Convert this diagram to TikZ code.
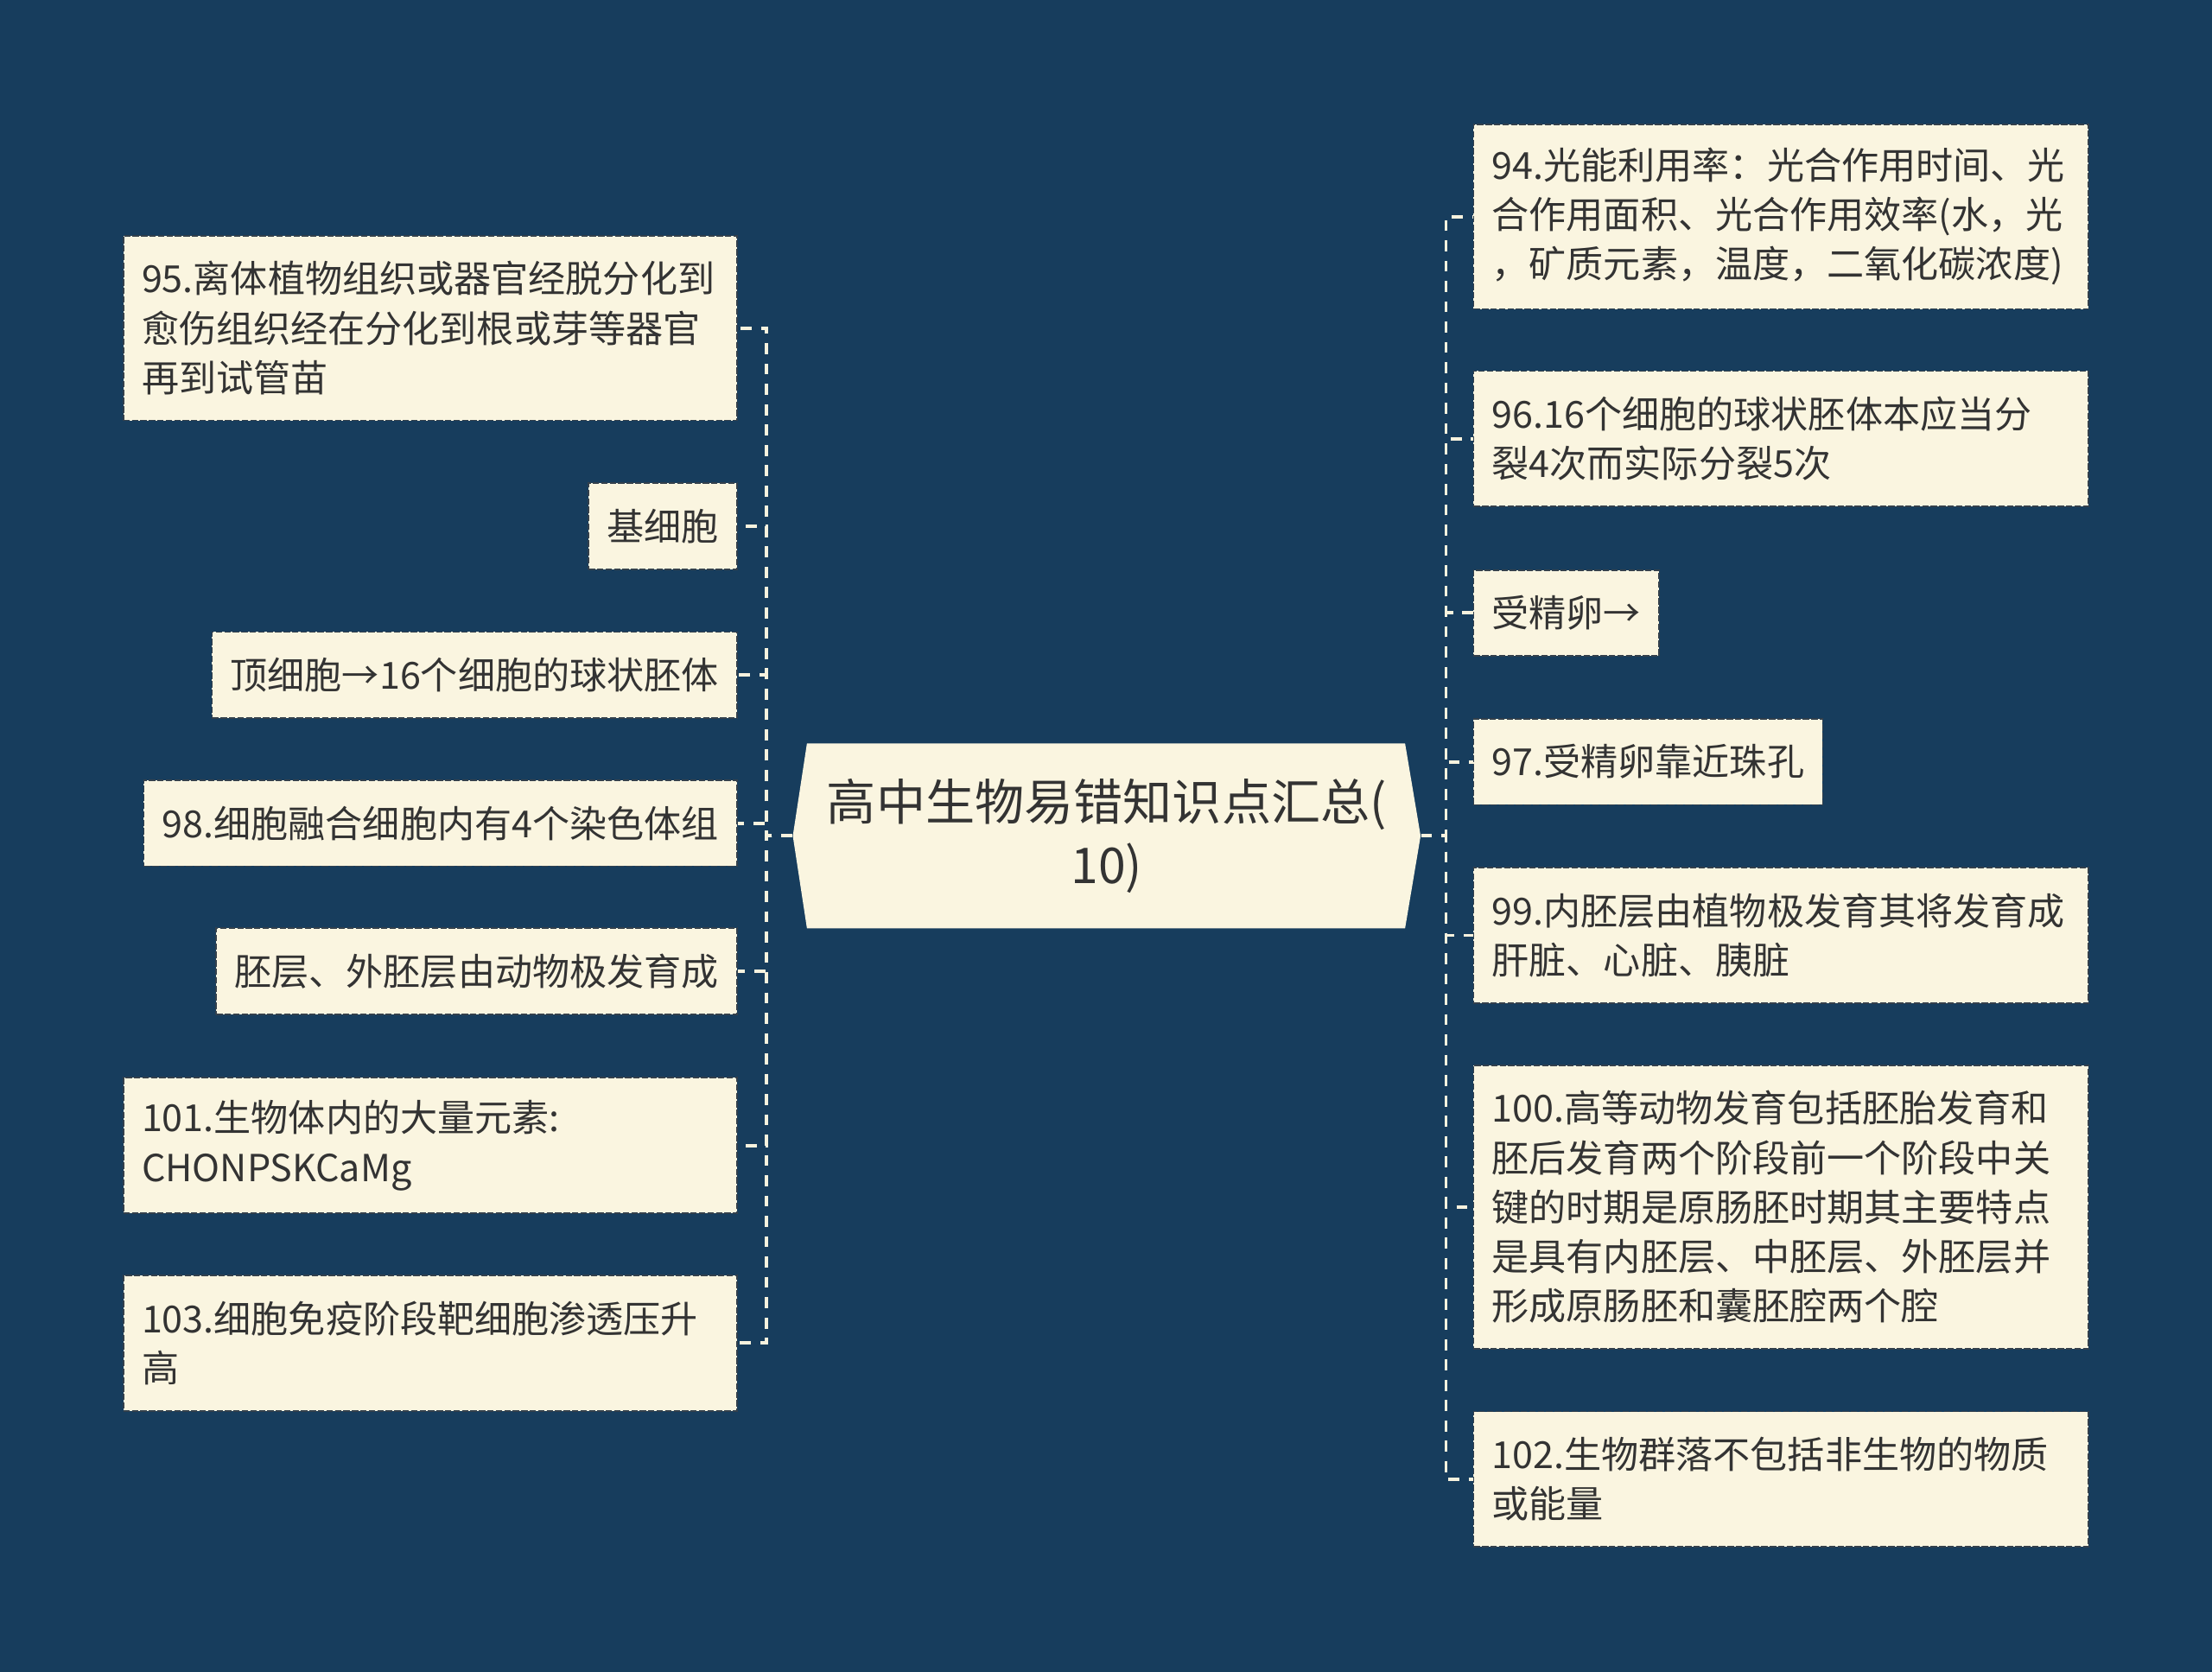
\documentclass[tikz,border=0pt]{standalone}
\usepackage{fontspec}
\setmainfont{Noto Sans CJK SC}
\definecolor{bg}{HTML}{173D5D}
\definecolor{cream}{HTML}{FAF5E0}
\definecolor{txt}{HTML}{333333}
\definecolor{edgec}{HTML}{F7F2DE}
\definecolor{bord}{HTML}{33404C}
\tikzset{
  leaf/.style={fill=cream, draw=bord, line width=0.55pt, dash pattern=on 2.25pt off 0.75pt,
    text=txt, align=left, inner xsep=6.5pt, inner ysep=0pt,
    font=\fontsize{13.2pt}{17.5pt}\selectfont},
  one/.style={minimum height=30.5pt},
  two/.style={minimum height=48pt},
  three/.style={minimum height=65.5pt},
  five/.style={minimum height=100.5pt},
  wideL/.style={text width=204.5pt},
  wideR/.style={text width=205pt},
  root/.style={text=txt, align=center, inner sep=0pt, minimum width=222.5pt, minimum height=65.5pt,
    font=\fontsize{17.5pt}{22.5pt}\selectfont},
  conn/.style={draw=edgec, line width=1.2pt, dash pattern=on 3.9pt off 3.3pt}
}
\begin{document}
\begin{tikzpicture}[x=0.5pt,y=-0.5pt]
\fill[bg] (0,0) rectangle (1568,1185);
\useasboundingbox (0,0) rectangle (1568,1185);
% centre hexagon
\fill[cream] (562,592.5) -- (572,527) -- (996,527) -- (1007,592.5) -- (996,658) -- (572,658) -- cycle;
\node[root] (c) at (784.5,592.5) {高中生物易错知识点汇总(\\10)};
\coordinate (lt) at (543,592.5);
\coordinate (rt) at (1025,592.5);
% left nodes
\node[leaf, three, wideL, anchor=east] (l1) at (523,232.5) {95.离体植物组织或器官经脱分化到\\愈伤组织经在分化到根或芽等器官\\再到试管苗};
\node[leaf, one, anchor=east] (l2) at (523,373) {基细胞};
\node[leaf, one, anchor=east] (l3) at (523,478.5) {顶细胞→16个细胞的球状胚体};
\node[leaf, one, anchor=east] (l4) at (523,583.5) {98.细胞融合细胞内有4个染色体组};
\node[leaf, one, anchor=east] (l5) at (523,688.5) {胚层、外胚层由动物极发育成};
\node[leaf, two, wideL, anchor=east] (l6) at (523,812) {101.生物体内的大量元素:\\CHONPSKCaMg};
\node[leaf, two, wideL, anchor=east] (l7) at (523,952) {103.细胞免疫阶段靶细胞渗透压升\\高};
% right nodes
\node[leaf, three, wideR, anchor=west] (r1) at (1044,153.5) {94.光能利用率：光合作用时间、光\\合作用面积、光合作用效率(水，光\\，矿质元素，温度，二氧化碳浓度)};
\node[leaf, two, wideR, anchor=west] (r2) at (1044,311) {96.16个细胞的球状胚体本应当分\\裂4次而实际分裂5次};
\node[leaf, one, anchor=west] (r3) at (1044,434.5) {受精卵→};
\node[leaf, one, anchor=west] (r4) at (1044,540) {97.受精卵靠近珠孔};
\node[leaf, two, wideR, anchor=west] (r5) at (1044,663) {99.内胚层由植物极发育其将发育成\\肝脏、心脏、胰脏};
\node[leaf, five, wideR, anchor=west] (r6) at (1044,855.5) {100.高等动物发育包括胚胎发育和\\胚后发育两个阶段前一个阶段中关\\键的时期是原肠胚时期其主要特点\\是具有内胚层、中胚层、外胚层并\\形成原肠胚和囊胚腔两个腔};
\node[leaf, two, wideR, anchor=west] (r7) at (1044,1048.5) {102.生物群落不包括非生物的物质\\或能量};
% connectors
\foreach \n in {l1,l2,l3,l4,l5,l6,l7}
  \draw[conn] (c.west) -- (lt) |- (\n.east);
\foreach \n in {r1,r2,r3,r4,r5,r6,r7}
  \draw[conn] (c.east) -- (rt) |- (\n.west);
\end{tikzpicture}
\end{document}
